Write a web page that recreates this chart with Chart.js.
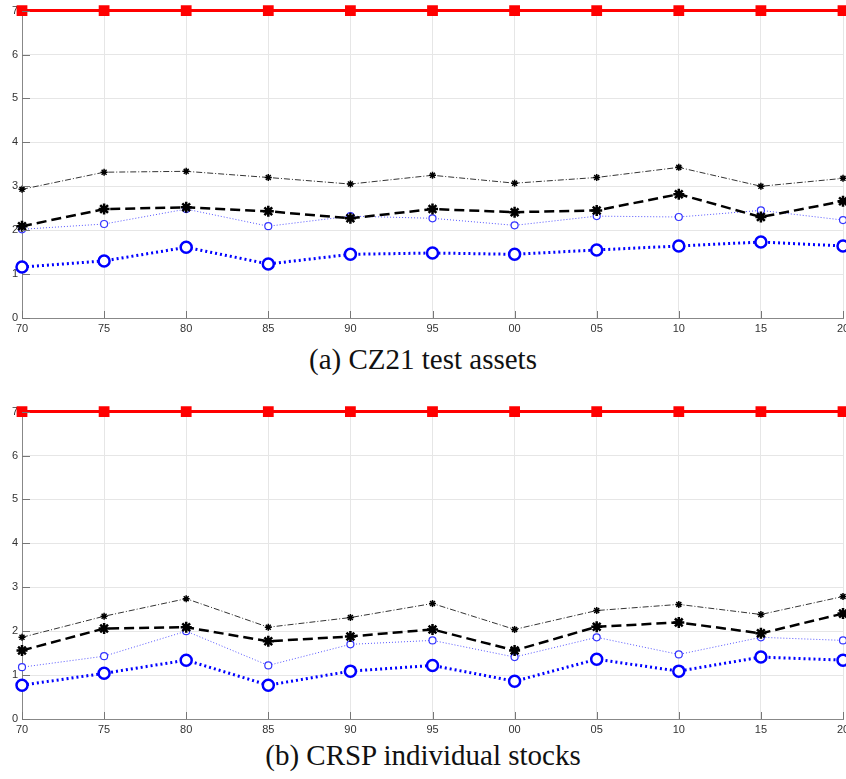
<!DOCTYPE html>
<html>
<head>
<meta charset="utf-8">
<script src="https://cdn.jsdelivr.net/npm/chart.js@4"></script>
<style>
  body { margin: 0; background: #fff; }
  .page { position: relative; width: 846px; height: 779px; overflow: hidden; }
  .box { position: absolute; left: 0; width: 856px; height: 334px; }
  .cap { position: absolute; left: 0; width: 846px; text-align: center; line-height: 33px;
         font-family: "Liberation Serif", "Times New Roman", serif; font-size: 29px; color: #111; }
</style>
</head>
<body>
<div class="page">
  <div class="box" style="top:0"><canvas id="chartA"></canvas></div>
  <div class="cap" style="top:343px">(a) CZ21 test assets</div>
  <div class="box" style="top:401px"><canvas id="chartB"></canvas></div>
  <div class="cap" style="top:739px">(b) CRSP individual stocks</div>
</div>
<script>
  const years = ['70', '75', '80', '85', '90', '95', '00', '05', '10', '15', '20'];
  const yTicks = [0, 1, 2, 3, 4, 5, 6, 7];

  // (a) CZ21 test assets
  const redA = [7, 7, 7, 7, 7, 7, 7, 7, 7, 7, 7];
  const blackThinA = [2.93, 3.32, 3.34, 3.2, 3.05, 3.25, 3.07, 3.2, 3.43, 3.0, 3.18];
  const blackThickA = [2.09, 2.48, 2.52, 2.43, 2.27, 2.48, 2.41, 2.45, 2.82, 2.3, 2.66];
  const blueThinA = [2.02, 2.14, 2.48, 2.09, 2.32, 2.27, 2.11, 2.32, 2.3, 2.45, 2.23];
  const blueThickA = [1.16, 1.3, 1.61, 1.23, 1.45, 1.48, 1.45, 1.55, 1.64, 1.73, 1.64];

  // (b) CRSP individual stocks
  const redB = [7, 7, 7, 7, 7, 7, 7, 7, 7, 7, 7];
  const blackThinB = [1.86, 2.34, 2.74, 2.09, 2.31, 2.63, 2.04, 2.47, 2.61, 2.38, 2.79];
  const blackThickB = [1.56, 2.06, 2.09, 1.77, 1.88, 2.04, 1.56, 2.1, 2.2, 1.95, 2.4];
  const blueThinB = [1.18, 1.43, 2.0, 1.22, 1.7, 1.79, 1.41, 1.86, 1.47, 1.86, 1.79];
  const blueThickB = [0.77, 1.04, 1.34, 0.77, 1.09, 1.22, 0.86, 1.36, 1.09, 1.41, 1.34];

  // matlab style ticks pointing into the plot
  const innerTicks = {
    id: 'innerTicks',
    afterDraw(chart) {
      const ctx = chart.ctx, a = chart.chartArea;
      const x = chart.scales.x, y = chart.scales.y;
      ctx.save();
      ctx.strokeStyle = '#777';
      ctx.lineWidth = 1;
      ctx.beginPath();
      yTicks.forEach(v => {
        const py = Math.round(y.getPixelForValue(v)) + 0.5;
        ctx.moveTo(a.left, py); ctx.lineTo(a.left + 8, py);
      });
      years.forEach((c, i) => {
        const px = Math.round(x.getPixelForValue(i)) + 0.5;
        ctx.moveTo(px, a.bottom); ctx.lineTo(px, a.bottom - 7);
      });
      ctx.stroke();
      ctx.restore();
    }
  };

  function makeSets(red, bThin, bThick, uThin, uThick) {
    return [
      {
        data: red, borderColor: '#ff0000', backgroundColor: '#ff0000',
        borderWidth: 3, pointStyle: 'rect', pointRadius: 5.5, clip: false
      },
      {
        data: bThin, borderColor: '#333', backgroundColor: '#000',
        borderWidth: 1, borderDash: [6, 2, 1, 2], pointStyle: 'star',
        pointRadius: 3.5, pointBorderWidth: 1.5, pointBorderColor: '#000'
      },
      {
        data: bThick, borderColor: '#000', backgroundColor: '#000',
        borderWidth: 2.5, borderDash: [10, 5], pointStyle: 'star',
        pointRadius: 5.5, pointBorderWidth: 2.5, pointBorderColor: '#000'
      },
      {
        data: uThin, borderColor: '#5555ff', backgroundColor: '#fff',
        borderWidth: 1, borderDash: [1, 2], pointStyle: 'circle',
        pointRadius: 3.5, pointBorderWidth: 1.2, pointBorderColor: '#3333ff'
      },
      {
        data: uThick, borderColor: '#0000ff', backgroundColor: '#fff',
        borderWidth: 3, borderDash: [2, 3], pointStyle: 'circle',
        pointRadius: 5.5, pointBorderWidth: 2.5, pointBorderColor: '#0000ff'
      }
    ];
  }

  function makeChart(id, sets) {
    return new Chart(document.getElementById(id), {
      type: 'line',
      data: { labels: years, datasets: sets },
      plugins: [innerTicks],
      options: {
        responsive: true,
        maintainAspectRatio: false,
        animation: false,
        layout: { padding: { top: 10, left: 0, right: 13, bottom: 0 } },
        elements: { line: { tension: 0 } },
        plugins: { legend: { display: false }, tooltip: { enabled: false } },
        scales: {
          x: {
            offset: false,
            grid: { color: '#e6e6e6', drawTicks: false },
            border: { color: '#888', width: 1 },
            ticks: {
              padding: 4, maxRotation: 0, autoSkip: false,
              color: '#333', font: { family: 'Liberation Sans', size: 11 }
            },
            afterFit: s => { s.height = 16; }
          },
          y: {
            min: 0, max: 7,
            grid: { color: '#e6e6e6', drawTicks: false },
            border: { color: '#888', width: 1 },
            ticks: {
              stepSize: 1, padding: 4,
              color: '#333', font: { family: 'Liberation Sans', size: 11 }
            },
            afterFit: s => { s.width = 22; }
          }
        }
      }
    });
  }

  makeChart('chartA', makeSets(redA, blackThinA, blackThickA, blueThinA, blueThickA));
  makeChart('chartB', makeSets(redB, blackThinB, blackThickB, blueThinB, blueThickB));
</script>
</body>
</html>
